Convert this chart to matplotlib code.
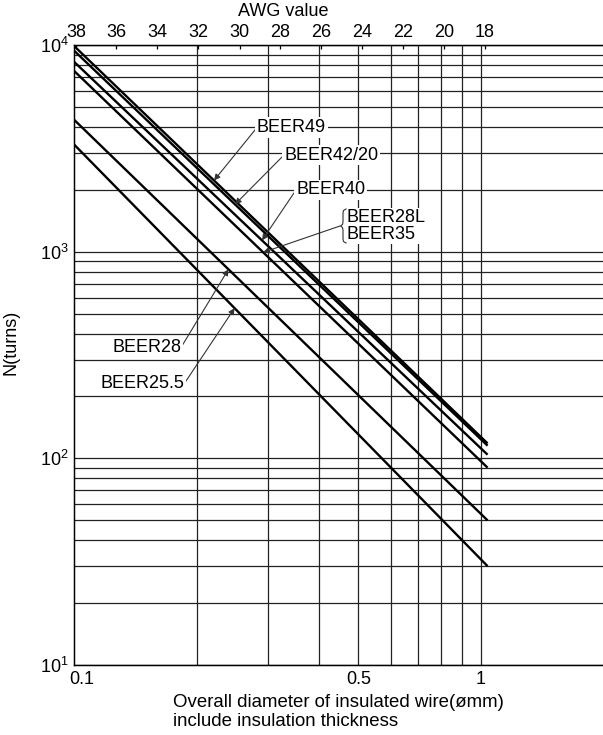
import numpy as np
import matplotlib
matplotlib.use('Agg')
import matplotlib.pyplot as plt
from matplotlib import transforms

plt.rcParams['font.family'] = ['Liberation Sans', 'DejaVu Sans']
plt.rcParams['mathtext.fontset'] = 'custom'
plt.rcParams['mathtext.rm'] = 'Liberation Sans'

# wire diameter (mm) at the ends of each line and the turns N there
d_start = 0.1
d_end = 1.04
cores = ['BEER49', 'BEER42/20', 'BEER40', 'BEER28L/BEER35', 'BEER28', 'BEER25.5']
n_start = [9900, 9400, 8300, 7500, 4350, 3300]
n_end = [118, 115, 104, 90, 50, 30]

# AWG numbers and their bare wire diameter (mm)
awg = [38, 36, 34, 32, 30, 28, 26, 24, 22, 20, 18]
awg_dia = [0.101, 0.127, 0.160, 0.202, 0.255, 0.321, 0.405, 0.511, 0.644, 0.812, 1.024]

x_grid = [0.2, 0.3, 0.4, 0.5, 0.6, 0.7, 0.8, 0.9, 1.0]
x_labels = [(0.1, '0.1'), (0.5, '0.5'), (1.0, '1')]

W, H = 603, 735
fig = plt.figure(figsize=(W / 100, H / 100), dpi=100)
ax = fig.add_axes([74.3 / W, 1 - 664.7 / H, 1 - 74.3 / W, (664.7 - 45.3) / H])


def on_line(i, d):
    # N on line i at diameter d (straight line in log-log)
    t = np.log10(d / d_start) / np.log10(d_end / d_start)
    return 10 ** (np.log10(n_start[i]) + t * (np.log10(n_end[i]) - np.log10(n_start[i])))


ax.set_xscale('log')
ax.set_yscale('log')
ax.set_xlim(0.1, 2.0)
ax.set_ylim(10, 1e4)

# grid
ax.set_xticks(x_grid)
ax.set_xticklabels([])
ax.xaxis.set_minor_locator(matplotlib.ticker.NullLocator())
ax.set_yticks([10, 100, 1000, 10000])
ax.set_yticklabels(['$10^1$', '$10^2$', '$10^3$', '$10^4$'], fontsize=13)
ax.yaxis.set_minor_locator(matplotlib.ticker.LogLocator(base=10, subs=np.arange(2, 10)))
ax.yaxis.set_minor_formatter(matplotlib.ticker.NullFormatter())
ax.tick_params(axis='both', which='both', length=0)
ax.tick_params(axis='y', pad=4)
ax.grid(True, axis='x', which='major', color='#222222', lw=0.9)
ax.grid(True, axis='y', which='both', color='#222222', lw=0.9)
ax.spines['right'].set_visible(False)
for s in ('left', 'top', 'bottom'):
    ax.spines[s].set_linewidth(1.0)

off = transforms.blended_transform_factory(ax.transData, ax.transAxes)
for xv, lab in x_labels:
    dx = 7 if xv == 0.1 else 0
    tr = off + transforms.ScaledTranslation(dx / 100, -6 / 100, fig.dpi_scale_trans)
    ax.text(xv, 0, lab, transform=tr, ha='center', va='top', fontsize=13)

ax.set_xlabel('Overall diameter of insulated wire(\u00f8mm)\ninclude insulation thickness',
              fontsize=13.4, multialignment='left', labelpad=17.5)
ax.set_ylabel('N(turns)', fontsize=13)
ax.yaxis.set_label_coords(-0.104, 0.52)

# top AWG axis
ax2 = ax.twiny()
ax2.set_xscale('log')
ax2.set_xlim(ax.get_xlim())
ax2.set_xticks(awg_dia)
ax2.set_xticklabels([str(a) for a in awg], fontsize=13)
ax2.xaxis.set_minor_locator(matplotlib.ticker.NullLocator())
ax2.tick_params(axis='x', direction='in', length=3, width=0.9, pad=3)
ax2.spines['right'].set_visible(False)
fig.text(283.6 / W, 1 - 12 / H, 'AWG value', ha='center', va='center', fontsize=13)

# lines
for i in range(len(cores)):
    ax.plot([d_start, d_end], [n_start[i], n_end[i]], color='black', lw=1.7,
            solid_capstyle='butt', zorder=3)

box = dict(boxstyle='square,pad=0.1', fc='white', ec='none')
arrow = dict(arrowstyle='-|>', color='#333333', lw=0.8, mutation_scale=9,
             shrinkA=0, shrinkB=0)


def label(i, d_tip, text, px, py, ha):
    rel = (0, 0.5) if ha == 'left' else (1, 0.5)
    ax.annotate(text, xy=(d_tip, on_line(i, d_tip)), xycoords='data',
                xytext=(px, H - py), textcoords='figure pixels',
                ha=ha, va='center', fontsize=13, bbox=box,
                arrowprops=dict(arrow, relpos=rel), zorder=5)


label(0, 0.2207, 'BEER49', 257, 127.5, 'left')
label(1, 0.2486, 'BEER42/20', 284, 155, 'left')
label(2, 0.2897, 'BEER40', 296, 190, 'left')
label(4, 0.2395, 'BEER28', 181, 347.5, 'right')
label(5, 0.248, 'BEER25.5', 184, 384, 'right')

# BEER28L / BEER35 share one line: brace + leader
ax.annotate('', xy=(0.2916, on_line(3, 0.2916)), xycoords='data',
            xytext=(340, H - 226), textcoords='figure pixels',
            arrowprops=arrow, zorder=5)
fig.text(347 / W, 1 - 226 / H, 'BEER28L\nBEER35', ha='left', va='center',
         fontsize=13, linespacing=0.95, bbox=box, zorder=5)
bx = [346, 343.5, 343, 343, 342.5, 340.5, 342.5, 343, 343, 343.5, 346]
by = [209, 210.5, 213, 222, 224.5, 226, 227.5, 230, 239, 241.5, 243]
fig.add_artist(matplotlib.lines.Line2D([x / W for x in bx], [1 - y / H for y in by],
                                       color='#333333', lw=0.8, zorder=6))

fig.savefig('out.png', dpi=100)
